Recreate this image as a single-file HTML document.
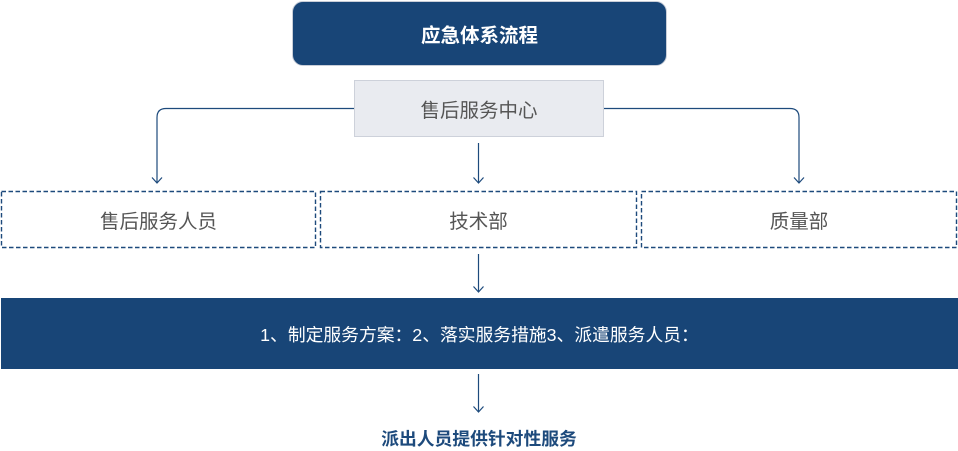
<!DOCTYPE html>
<html><head><meta charset="utf-8">
<style>
html,body{margin:0;padding:0;background:#fff;}
body{width:958px;height:447px;position:relative;overflow:hidden;font-family:"Liberation Sans","Noto Sans CJK SC",sans-serif;}
.abs{position:absolute;box-sizing:border-box;display:flex;align-items:center;justify-content:center;white-space:nowrap;}
</style></head><body>
<div class="abs" style="left:292px;top:1px;width:375px;height:65px;background:#184577;border:1px solid #c9ced8;border-radius:11px;color:#fff;font-weight:bold;font-size:19.5px;">应急体系流程</div>
<div class="abs" style="left:354px;top:80px;width:250px;height:57px;background:#e9ebf0;border:1px solid #cdd1da;color:#555;font-size:19.5px;">售后服务中心</div>
<div class="abs" style="left:1px;top:191px;width:315px;height:57px;color:#555;font-size:19.5px;">售后服务人员</div>
<div class="abs" style="left:320px;top:191px;width:317px;height:57px;color:#555;font-size:19.5px;">技术部</div>
<div class="abs" style="left:641px;top:191px;width:316px;height:57px;color:#555;font-size:19.5px;">质量部</div>
<div class="abs" style="left:1px;top:298px;width:957px;height:71px;background:#184577;color:#fff;font-size:17.8px;">1、制定服务方案：2、落实服务措施3、派遣服务人员：</div>
<div class="abs" style="left:300px;top:427px;width:358px;height:22px;color:#1d4a7c;font-weight:bold;font-size:17.8px;">派出人员提供针对性服务</div>
<svg width="958" height="447" style="position:absolute;left:0;top:0;" fill="none" stroke="#1d4a7c" stroke-width="1.2">
<g stroke-width="1.4" stroke-dasharray="4.5 2.5">
<rect x="1.5" y="191.5" width="314" height="56"/>
<rect x="320.5" y="191.5" width="316" height="56"/>
<rect x="641.5" y="191.5" width="315" height="56"/>
</g>
<path d="M354 108.5 H166 Q157 108.5 157 117.5 V183"/>
<path d="M604 108.5 H790 Q799 108.5 799 117.5 V183"/>
<path d="M478.5 143 V183"/>
<path d="M478.5 254 V292"/>
<path d="M478.5 374 V412"/>
<path d="M152 177.5 L157 183 L162 177.5"/>
<path d="M794 177.5 L799 183 L804 177.5"/>
<path d="M473.5 177.5 L478.5 183 L483.5 177.5"/>
<path d="M473.5 286.5 L478.5 292 L483.5 286.5"/>
<path d="M473.5 406.5 L478.5 412 L483.5 406.5"/>
</svg>
</body></html>
